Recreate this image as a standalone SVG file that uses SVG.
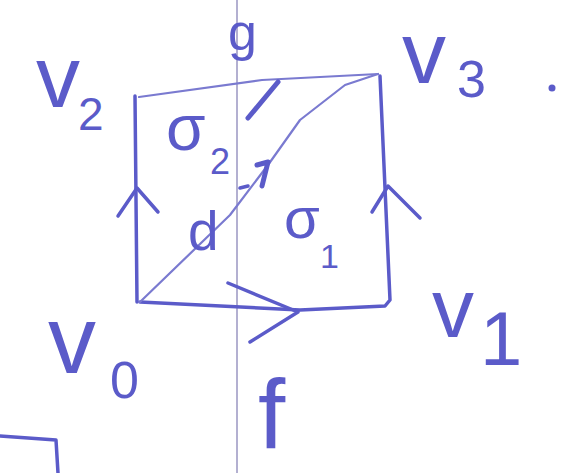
<svg xmlns="http://www.w3.org/2000/svg" width="568" height="473" viewBox="0 0 568 473">
<style>
.ink{fill:none;stroke:#5b5bc9;stroke-linecap:round;stroke-linejoin:round}
.thick{stroke-width:5}
.mid{stroke-width:3.5}
.thin{stroke-width:2.2;stroke:#7a7ad0}
.lbl{font-family:"Liberation Sans",Arial,sans-serif;fill:#5b5bc9}
</style>
<rect width="568" height="473" fill="#ffffff"/>
<line x1="237" y1="0" x2="237" y2="473" stroke="#8a86b8" stroke-width="1.3"/>
<g id="connectors">
<path class="ink mid" d="M137,302 L135,96"/>
<path class="ink mid" d="M118,216 L137,188 L158,212"/>
<path class="ink thin" d="M139,97 L262,80 L378,74"/>
<path class="ink thick" d="M248,118 L278,82"/>
<path class="ink mid" d="M380,76 L390,300 L385,306 L300,310 L140,302"/>
<path class="ink mid" d="M372,212 L388,186 L420,218"/>
<path class="ink mid" d="M228,283 L298,312 L250,342"/>
<path class="ink thin" d="M140,302 L230,215 L268,165 L300,120 L345,85 L378,74"/>
<path class="ink thick" d="M262,186 L268,162 L257,165"/>
<path class="ink mid" d="M240,188 L248,186"/>
<path class="ink mid" d="M0,436 L56,440 L58,473"/>
</g>
<g id="v2"><text class="lbl" x="36" y="107" font-size="88">v</text><text class="lbl" x="78" y="130" font-size="46">2</text></g>
<g id="v3"><text class="lbl" x="402" y="83" font-size="88">v</text><text class="lbl" x="457" y="97" font-size="52">3</text><circle cx="552" cy="88" r="3.5" fill="#5b5bc9"/></g>
<g id="v0"><text class="lbl" x="48" y="373" font-size="96">v</text><text class="lbl" x="110" y="398" font-size="52">0</text></g>
<g id="v1"><text class="lbl" x="432" y="337" font-size="84">v</text><text class="lbl" x="480" y="365" font-size="76">1</text></g>
<g id="sigma2"><text class="lbl" x="166" y="150" font-size="64">σ</text><text class="lbl" x="210" y="174" font-size="36">2</text></g>
<g id="sigma1"><text class="lbl" x="284" y="238" font-size="58">σ</text><text class="lbl" x="320" y="268" font-size="34">1</text></g>
<g id="d"><text class="lbl" x="188" y="250" font-size="55">d</text></g>
<g id="g"><text class="lbl" x="228" y="50" font-size="52">g</text></g>
<g id="f"><text class="lbl" x="258" y="448" font-size="98">f</text></g>
</svg>
